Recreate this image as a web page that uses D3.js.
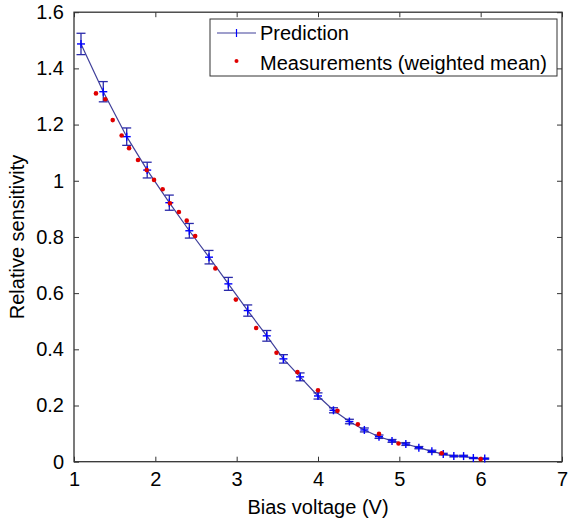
<!DOCTYPE html>
<html>
<head>
<meta charset="utf-8">
<script src="https://cdn.jsdelivr.net/npm/d3@7"></script>
<style>
  body { margin: 0; background: #fff; }
  text { font-family: "Liberation Sans", Arial, sans-serif; }
</style>
</head>
<body>
<div id="chart"></div>
<script>
// prediction (model) with error bars
const predV   = [1.086, 1.36, 1.648, 1.90, 2.172, 2.418, 2.66, 2.898, 3.136, 3.37, 3.575, 3.78, 4.0,
                 4.19, 4.386, 4.57, 4.75, 4.91, 5.08, 5.24, 5.40, 5.54, 5.67, 5.79, 5.91, 6.05];
const predS   = [1.487, 1.317, 1.157, 1.038, 0.922, 0.822, 0.728, 0.633, 0.538, 0.448, 0.366, 0.302, 0.234,
                 0.183, 0.143, 0.113, 0.089, 0.074, 0.063, 0.050, 0.037, 0.027, 0.020, 0.020, 0.013, 0.011];
const predErr = [0.038, 0.036, 0.031, 0.028, 0.027, 0.026, 0.024, 0.023, 0.020, 0.019, 0.015, 0.014, 0.011,
                 0.009, 0.008, 0.007, 0.006, 0.005, 0.005, 0.004, 0.004, 0.003, 0.003, 0.003, 0.002, 0.002];
// measurements (weighted mean)
const measV = [1.27, 1.385, 1.476, 1.586, 1.677, 1.787, 1.894, 1.984, 2.09, 2.18, 2.29, 2.386, 2.49,
               2.738, 2.99, 3.24, 3.49, 3.747, 4.0, 4.24, 4.49, 4.75, 4.99, 5.52, 6.0];
const measS = [1.311, 1.290, 1.216, 1.161, 1.116, 1.074, 1.038, 1.003, 0.970, 0.920, 0.889, 0.858, 0.803,
               0.688, 0.577, 0.476, 0.388, 0.319, 0.254, 0.181, 0.133, 0.099, 0.065, 0.030, 0.009];
const xTicks = [1, 2, 3, 4, 5, 6, 7];
const yTicks = [0, 0.2, 0.4, 0.6, 0.8, 1, 1.2, 1.4, 1.6];
const legendLabels = ["Prediction", "Measurements (weighted mean)"];

const W = 569, H = 522;
const dims = { left: 74, right: 562, top: 12.2, bottom: 461.7 };
const lineCol = "#40409a", barCol = "#2a2aaa", plusCol = "#0000ff", redCol = "#e00000", axCol = "#333";

const svg = d3.select("#chart").append("svg")
  .attr("width", W).attr("height", H)
  .attr("viewBox", `0 0 ${W} ${H}`);

const xScale = d3.scaleLinear([1, 7], [dims.left, dims.right]);
const yScale = d3.scaleLinear([0, 1.6], [dims.bottom, dims.top]);
const fmt = d3.format("~g");

// axes, ticks pointing inward on all four sides
const axisG = svg.append("g").attr("class", "axis");
function styleAxis(g, labels) {
  g.select(".domain").remove();
  g.selectAll(".tick line").attr("stroke", axCol).attr("stroke-width", 1);
  g.selectAll(".tick text").attr("fill", "#000").attr("font-size", 20);
  if (!labels) g.selectAll(".tick text").remove();
}
axisG.append("g").attr("transform", `translate(0 ${dims.bottom})`)
  .call(d3.axisBottom(xScale).tickValues(xTicks).tickFormat(fmt).tickSizeInner(-5).tickSizeOuter(0).tickPadding(10))
  .call(g => styleAxis(g, true));
axisG.append("g").attr("transform", `translate(0 ${dims.top})`)
  .call(d3.axisTop(xScale).tickValues(xTicks).tickSizeInner(-5).tickSizeOuter(0))
  .call(g => styleAxis(g, false));
axisG.append("g").attr("transform", `translate(${dims.left} 0)`)
  .call(d3.axisLeft(yScale).tickValues(yTicks).tickFormat(fmt).tickSizeInner(-5).tickSizeOuter(0).tickPadding(10))
  .call(g => styleAxis(g, true));
axisG.append("g").attr("transform", `translate(${dims.right} 0)`)
  .call(d3.axisRight(yScale).tickValues(yTicks).tickSizeInner(-5).tickSizeOuter(0))
  .call(g => styleAxis(g, false));
axisG.append("rect")
  .attr("x", dims.left).attr("y", dims.top)
  .attr("width", dims.right - dims.left).attr("height", dims.bottom - dims.top)
  .attr("fill", "none").attr("stroke", axCol).attr("stroke-width", 1.3);

axisG.append("text")
  .attr("x", (dims.left + dims.right) / 2).attr("y", 514)
  .attr("text-anchor", "middle").attr("font-size", 20)
  .text("Bias voltage (V)");
axisG.append("text")
  .attr("transform", `translate(24 ${(dims.top + dims.bottom) / 2}) rotate(-90)`)
  .attr("text-anchor", "middle").attr("font-size", 20)
  .text("Relative sensitivity");

// prediction line + error bars + markers
const pred = predV.map((v, i) => ({ v, s: predS[i], e: predErr[i] }));
const plotG = svg.append("g");
plotG.append("path")
  .datum(pred)
  .attr("fill", "none").attr("stroke", lineCol).attr("stroke-width", 1.2)
  .attr("d", d3.line().x(d => xScale(d.v)).y(d => yScale(d.s)));

const cap = 4.5;
const bars = plotG.selectAll("g.eb").data(pred).join("g").attr("class", "eb")
  .attr("stroke", barCol).attr("stroke-width", 1.3);
bars.append("line")
  .attr("x1", d => xScale(d.v)).attr("x2", d => xScale(d.v))
  .attr("y1", d => yScale(d.s - d.e)).attr("y2", d => yScale(d.s + d.e));
bars.append("line")
  .attr("x1", d => xScale(d.v) - cap).attr("x2", d => xScale(d.v) + cap)
  .attr("y1", d => yScale(d.s + d.e)).attr("y2", d => yScale(d.s + d.e));
bars.append("line")
  .attr("x1", d => xScale(d.v) - cap).attr("x2", d => xScale(d.v) + cap)
  .attr("y1", d => yScale(d.s - d.e)).attr("y2", d => yScale(d.s - d.e));

const plus = 4;
const marks = plotG.selectAll("g.pm").data(pred).join("g").attr("class", "pm")
  .attr("stroke", plusCol).attr("stroke-width", 1.4);
marks.append("line")
  .attr("x1", d => xScale(d.v) - plus).attr("x2", d => xScale(d.v) + plus)
  .attr("y1", d => yScale(d.s)).attr("y2", d => yScale(d.s));
marks.append("line")
  .attr("x1", d => xScale(d.v)).attr("x2", d => xScale(d.v))
  .attr("y1", d => yScale(d.s) - plus).attr("y2", d => yScale(d.s) + plus);

// measurements
plotG.selectAll("circle.meas")
  .data(measV.map((v, i) => ({ v, s: measS[i] })))
  .join("circle").attr("class", "meas")
    .attr("cx", d => xScale(d.v)).attr("cy", d => yScale(d.s))
    .attr("r", 2.3).attr("fill", redCol);

// legend
const leg = svg.append("g");
leg.append("rect").attr("x", 210).attr("y", 19).attr("width", 347).attr("height", 57)
  .attr("fill", "#fff").attr("stroke", axCol).attr("stroke-width", 1);
leg.append("line").attr("x1", 217).attr("x2", 256).attr("y1", 33).attr("y2", 33)
  .attr("stroke", lineCol).attr("stroke-width", 1.2);
leg.append("line").attr("x1", 236.5).attr("x2", 236.5).attr("y1", 29).attr("y2", 37)
  .attr("stroke", plusCol).attr("stroke-width", 1.2);
leg.append("circle").attr("cx", 236.5).attr("cy", 61).attr("r", 2).attr("fill", redCol);
leg.selectAll("text.lt").data(legendLabels).join("text").attr("class", "lt")
  .attr("x", 260).attr("y", (d, i) => 40 + i * 29.5)
  .attr("font-size", 20).text(d => d);
</script>
</body>
</html>
